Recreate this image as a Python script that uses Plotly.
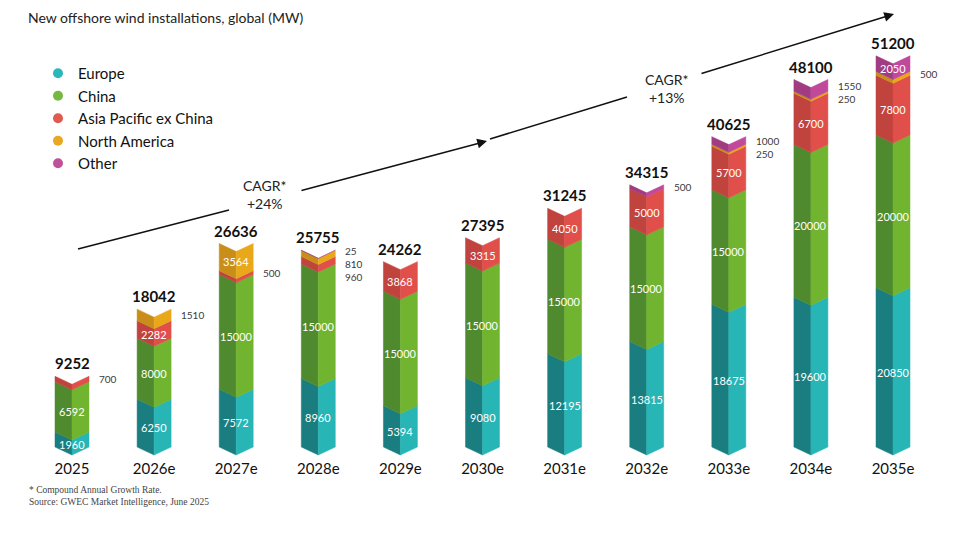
import plotly.graph_objects as go

# ---------------- data ----------------
years = ["2025", "2026e", "2027e", "2028e", "2029e", "2030e", "2031e", "2032e", "2033e", "2034e", "2035e"]
regions = ["Europe", "China", "Asia Pacific ex China", "North America", "Other"]
europe = [1960, 6250, 7572, 8960, 5394, 9080, 12195, 13815, 18675, 19600, 20850]
china = [6592, 8000, 15000, 15000, 15000, 15000, 15000, 15000, 15000, 20000, 20000]
apac = [700, 2282, 500, 960, 3868, 3315, 4050, 5000, 5700, 6700, 7800]
north_america = [0, 1510, 3564, 810, 0, 0, 0, 0, 250, 250, 500]
other = [0, 0, 0, 25, 0, 0, 0, 500, 1000, 1550, 2050]
series = [europe, china, apac, north_america, other]
cagr_labels = ["CAGR*<br>+24%", "CAGR*<br>+13%"]

light = ["#27b5b6", "#71b42f", "#e04f49", "#e8a81a", "#c1499c"]
dark = ["#1a7e80", "#4f8a2f", "#c0433e", "#c98e1a", "#a13c83"]
dot = ["#2bb8bb", "#77b842", "#e05a4f", "#e8a821", "#c1509b"]

# ---------------- geometry (style) ----------------
W, H = 960, 550
MB = 92
PLOT_H = H - MB
PX_PER_UNIT = 0.00764          # pixels per MW
Y_LO = -11 / PX_PER_UNIT
Y_HI = Y_LO + PLOT_H / PX_PER_UNIT
X_LO, X_HI = -0.877, 10.816
HW = 0.207                      # half width of a prism
NOTCH = 8 / PX_PER_UNIT         # depth of the V notch
FONT = "Lato, 'Noto Sans', sans-serif"
OUT_SIZE = 10
OUT_LINE = OUT_SIZE * 1.3

def px2paper(px, py):
    return px / W, (PLOT_H - py) / PLOT_H

fig = go.Figure()

totals = [sum(s[i] for s in series) for i in range(len(years))]

for k, (name, vals) in enumerate(zip(regions, series)):
    lx, ly, rx, ry = [], [], [], []
    for i, v in enumerate(vals):
        if v <= 0:
            continue
        b = sum(series[j][i] for j in range(k))
        t = b + v
        lx += [i - HW, i, i, i - HW, i - HW, None]
        ly += [b, b - NOTCH, t - NOTCH, t, b, None]
        rx += [i, i + HW, i + HW, i, i, None]
        ry += [b - NOTCH, b, t, t - NOTCH, b - NOTCH, None]
    for xs, ys, col in ((lx, ly, dark[k]), (rx, ry, light[k])):
        fig.add_trace(go.Scatter(
            x=xs, y=ys, mode="lines", fill="toself", fillcolor=col,
            line=dict(color=col, width=0.5), hoverinfo="skip", showlegend=False))

# legend entries
for k, name in enumerate(regions):
    fig.add_trace(go.Scatter(
        x=[None], y=[None], mode="markers", name=name,
        marker=dict(color=dot[k], size=10, symbol="circle"), hoverinfo="skip"))

annotations = []
for i in range(len(years)):
    outside = []
    for k in range(len(regions)):
        v = series[k][i]
        if v <= 0:
            continue
        b = sum(series[j][i] for j in range(k))
        t = b + v
        if k < 2 or v >= 2000:
            annotations.append(dict(
                x=i, y=(b + t) / 2 - NOTCH * 0.6, xref="x", yref="y", text=str(v),
                xanchor="center", yanchor="middle", showarrow=False,
                font=dict(family=FONT, size=11, color="white")))
        else:
            outside.append((k, v, (b + t) / 2))
    if outside:
        outside.sort(key=lambda o: -o[0])
        first_mid = outside[0][2]
        # centre of the first line sits at the first small segment's middle
        block_top = first_mid + (OUT_LINE / 2 + 1) / PX_PER_UNIT
        annotations.append(dict(
            x=i + HW, y=block_top, xref="x", yref="y",
            text="<br>".join(str(o[1]) for o in outside),
            xanchor="left", yanchor="top", xshift=8, showarrow=False, align="left",
            font=dict(family=FONT, size=OUT_SIZE, color="#3a3a3a")))
    annotations.append(dict(
        x=i, y=totals[i], xref="x", yref="y", text="<b>%d</b>" % totals[i],
        xanchor="center", yanchor="bottom", yshift=2, showarrow=False,
        font=dict(family=FONT, size=15, color="#111")))

# title
tx, ty = px2paper(26, 17)
annotations.append(dict(x=tx, y=ty, xref="paper", yref="paper", xanchor="left", yanchor="middle",
                        text="New offshore wind installations, global (MW)", showarrow=False,
                        font=dict(family=FONT, size=14, color="#222")))
# footnotes
for txt, py in (("* Compound Annual Growth Rate.", 490), ("Source: GWEC Market Intelligence, June 2025", 502)):
    fx, fy = px2paper(27, py)
    annotations.append(dict(x=fx, y=fy, xref="paper", yref="paper", xanchor="left", yanchor="middle",
                            text=txt, showarrow=False,
                            font=dict(family="'Liberation Serif', serif", size=9.5, color="#444")))

# CAGR texts
for txt, (cx, cy) in zip(cagr_labels, ((265, 194), (667, 88))):
    ax_, ay_ = px2paper(cx, cy)
    annotations.append(dict(x=ax_, y=ay_, xref="paper", yref="paper", text=txt, showarrow=False,
                            xanchor="center", yanchor="middle",
                            font=dict(family=FONT, size=14, color="#222")))

# arrows (tails drawn as shapes, heads as annotations)
shapes = []
segs_plain = [((78, 249), (229, 210)), ((490, 139), (627, 97))]
for (x0, y0), (x1, y1) in segs_plain:
    p0 = px2paper(x0, y0); p1 = px2paper(x1, y1)
    shapes.append(dict(type="line", xref="paper", yref="paper", x0=p0[0], y0=p0[1], x1=p1[0], y1=p1[1],
                       line=dict(color="#111", width=1.5)))
segs_arrow = [((300, 191), (487, 141)), ((700, 74), (894, 14))]
for (x0, y0), (x1, y1) in segs_arrow:
    hx, hy = px2paper(x1, y1)
    annotations.append(dict(x=hx, y=hy, xref="paper", yref="paper", ax=x0 - x1, ay=y0 - y1,
                            showarrow=True, arrowhead=2, arrowsize=1.3, arrowwidth=1.5,
                            arrowcolor="#111", text=""))

fig.update_layout(
    width=W, height=H,
    margin=dict(l=0, r=0, t=0, b=MB),
    paper_bgcolor="white", plot_bgcolor="white",
    showlegend=True,
    legend=dict(x=px2paper(38, 0)[0], y=px2paper(0, 57)[1], xanchor="left", yanchor="top",
                font=dict(family=FONT, size=15, color="#111"), bgcolor="rgba(0,0,0,0)",
                itemwidth=30, tracegroupgap=0),
    xaxis=dict(range=[X_LO, X_HI], tickvals=list(range(len(years))), ticktext=years,
               showgrid=False, zeroline=False, showline=False, ticks="",
               tickfont=dict(family=FONT, size=15, color="#111"), fixedrange=True),
    yaxis=dict(range=[Y_LO, Y_HI], visible=False, fixedrange=True),
    annotations=annotations, shapes=shapes,
    hovermode=False,
)

fig.write_html("out.html")
